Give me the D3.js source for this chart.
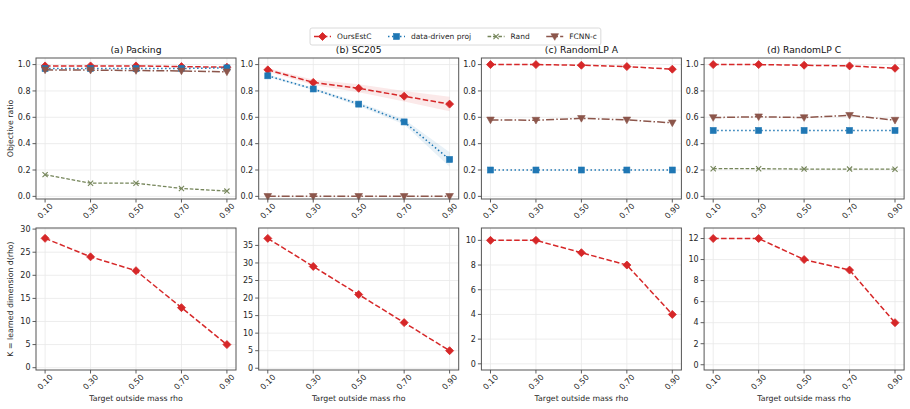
<!DOCTYPE html>
<html>
<head>
<meta charset="utf-8">
<script src="https://cdn.jsdelivr.net/npm/d3@7"></script>
<style>
  body { margin: 0; background: #fff; }
  svg { font-family: "DejaVu Sans", sans-serif; }
</style>
</head>
<body>
<div id="chart"></div>
<script>
// x categories
const rhoValues = [0.1, 0.3, 0.5, 0.7, 0.9];
const rhoLabels = ["0.10", "0.30", "0.50", "0.70", "0.90"];
const panelTitles = ["(a) Packing", "(b) SC205", "(c) RandomLP A", "(d) RandomLP C"];
const methodNames = ["OursEstC", "data-driven proj", "Rand", "FCNN-c"];

// objective ratio, one array per method and panel (null = not shown)
const packingOurs = [0.99, 0.99, 0.99, 0.985, 0.98];
const packingProj = [0.97, 0.97, 0.97, 0.97, 0.975];
const packingRand = [0.165, 0.10, 0.10, 0.06, 0.04];
const packingFcnn = [0.96, 0.958, 0.955, 0.952, 0.945];

const sc205Ours = [0.96, 0.865, 0.82, 0.76, 0.70];
const sc205Proj = [0.915, 0.815, 0.70, 0.565, 0.28];
const sc205Rand = [null, null, null, null, null];
const sc205Fcnn = [0, 0, 0, 0, 0];
const sc205OursSpread = [0.015, 0.02, 0.03, 0.04, 0.055];
const sc205ProjSpread = [0.01, 0.01, 0.015, 0.02, 0.055];

const lpAOurs = [1.0, 1.0, 0.995, 0.985, 0.965];
const lpAProj = [0.2, 0.2, 0.2, 0.2, 0.2];
const lpARand = [null, null, null, null, null];
const lpAFcnn = [0.58, 0.578, 0.592, 0.58, 0.558];

const lpCOurs = [1.0, 1.0, 0.995, 0.99, 0.972];
const lpCProj = [0.5, 0.5, 0.5, 0.5, 0.5];
const lpCRand = [0.21, 0.21, 0.207, 0.207, 0.206];
const lpCFcnn = [0.598, 0.604, 0.598, 0.615, 0.578];

// learned dimension K
const packingK = [28, 24, 21, 13, 5];
const sc205K = [37, 29, 21, 13, 5];
const lpAK = [10, 10, 9, 8, 4];
const lpCK = [12, 12, 10, 9, 4];

const topSeries = [
  [packingOurs, packingProj, packingRand, packingFcnn],
  [sc205Ours, sc205Proj, sc205Rand, sc205Fcnn],
  [lpAOurs, lpAProj, lpARand, lpAFcnn],
  [lpCOurs, lpCProj, lpCRand, lpCFcnn]
];
const bands = [null, [sc205OursSpread, sc205ProjSpread], null, null];
const kSeries = [packingK, sc205K, lpAK, lpCK];
const kTickStep = [5, 5, 2, 2];

const styles = [
  {color: "#d62728", dash: "5.5,2.4", marker: "diamond", width: 1.5},
  {color: "#1f77b4", dash: "1.5,2.5", marker: "square", width: 1.5},
  {color: "#75855a", dash: "3.6,1.8", marker: "x", width: 1.3},
  {color: "#8c564b", dash: "8,2.2,1.5,2.2", marker: "tridown", width: 1.5}
];

const W = 910, H = 409;
const svg = d3.select("#chart").append("svg").attr("width", W).attr("height", H);

const panelLeft = 36, panelStep = 222.7, panelW = 200;
const topRow = {y0: 58, y1: 199};
const botRow = {y0: 228, y1: 370};
const textColor = "#262626";

function drawMarker(g, type, x, y, color) {
  if (type === "diamond") {
    const r = 4;
    g.append("path").attr("d", `M${x},${y - r}L${x + r},${y}L${x},${y + r}L${x - r},${y}Z`)
      .attr("fill", color).attr("stroke", color).attr("stroke-width", 0.8);
  } else if (type === "square") {
    const r = 3;
    g.append("rect").attr("x", x - r).attr("y", y - r).attr("width", 2 * r).attr("height", 2 * r)
      .attr("fill", color).attr("stroke", color).attr("stroke-width", 0.6);
  } else if (type === "x") {
    const r = 2.6;
    g.append("path").attr("d", `M${x - r},${y - r}L${x + r},${y + r}M${x - r},${y + r}L${x + r},${y - r}`)
      .attr("stroke", color).attr("stroke-width", 1.1).attr("fill", "none");
  } else if (type === "tridown") {
    const r = 3.8;
    g.append("path").attr("d", `M${x - r},${y - r * 0.75}L${x + r},${y - r * 0.75}L${x},${y + r}Z`)
      .attr("fill", color).attr("stroke", color).attr("stroke-width", 0.6);
  }
}

function drawAxes(g, x, y, h, yTicks, yFmt) {
  // grid
  g.selectAll(".gx").data(rhoValues).join("line")
    .attr("x1", d => x(d)).attr("x2", d => x(d)).attr("y1", 0).attr("y2", h)
    .attr("stroke", "#e8e8e8").attr("stroke-width", 0.8);
  g.selectAll(".gy").data(yTicks).join("line")
    .attr("x1", 0).attr("x2", panelW).attr("y1", d => y(d)).attr("y2", d => y(d))
    .attr("stroke", "#e8e8e8").attr("stroke-width", 0.8);

  // y ticks
  yTicks.forEach(t => {
    g.append("line").attr("x1", -3.5).attr("x2", 0).attr("y1", y(t)).attr("y2", y(t))
      .attr("stroke", "#333").attr("stroke-width", 0.8);
    g.append("text").attr("x", -5.5).attr("y", y(t)).attr("dy", "0.35em")
      .attr("text-anchor", "end").attr("font-size", 8).attr("fill", textColor).text(yFmt(t));
  });
  // x ticks, rotated
  rhoValues.forEach((v, i) => {
    g.append("line").attr("x1", x(v)).attr("x2", x(v)).attr("y1", h).attr("y2", h + 3.5)
      .attr("stroke", "#333").attr("stroke-width", 0.8);
    g.append("text")
      .attr("transform", `translate(${x(v)},${h + 12}) rotate(-45)`)
      .attr("text-anchor", "middle").attr("dy", "0.35em")
      .attr("font-size", 8).attr("fill", textColor).text(rhoLabels[i]);
  });
}

function drawFrame(g, h) {
  g.append("rect").attr("x", 0).attr("y", 0).attr("width", panelW).attr("height", h)
    .attr("fill", "none").attr("stroke", "#555").attr("stroke-width", 1);
}

function drawLine(g, x, y, vals, st) {
  const pts = vals.map((v, i) => ({x: rhoValues[i], v: v})).filter(p => p.v !== null);
  if (!pts.length) return;
  const line = d3.line().x(p => x(p.x)).y(p => y(p.v));
  g.append("path").attr("d", line(pts)).attr("fill", "none")
    .attr("stroke", st.color).attr("stroke-width", st.width).attr("stroke-dasharray", st.dash);
  pts.forEach(p => drawMarker(g, st.marker, x(p.x), y(p.v), st.color));
}

for (let p = 0; p < 4; p++) {
  const left = panelLeft + p * panelStep;
  const x = d3.scaleLinear().domain([0.06, 0.94]).range([0, panelW]);

  // top row: objective ratio
  const hT = topRow.y1 - topRow.y0;
  const yT = d3.scaleLinear().domain([-0.02, 1.05]).range([hT, 0]);
  const gT = svg.append("g").attr("transform", `translate(${left},${topRow.y0})`);
  drawAxes(gT, x, yT, hT, [0, 0.2, 0.4, 0.6, 0.8, 1.0], d3.format(".1f"));

  if (bands[p]) {
    bands[p].forEach((spread, m) => {
      const vals = topSeries[p][m];
      const area = d3.area().x((d, i) => x(rhoValues[i]))
        .y0((d, i) => yT(d - spread[i])).y1((d, i) => yT(d + spread[i]));
      gT.append("path").attr("d", area(vals)).attr("fill", styles[m].color).attr("fill-opacity", 0.1);
    });
  }
  topSeries[p].forEach((vals, m) => drawLine(gT, x, yT, vals, styles[m]));
  drawFrame(gT, hT);

  gT.append("text").attr("x", panelW / 2).attr("y", -5).attr("text-anchor", "middle")
    .attr("font-size", 9.2).attr("fill", "#111").text(panelTitles[p]);

  // bottom row: learned dimension
  const hB = botRow.y1 - botRow.y0;
  const kMax = d3.max(kSeries[p]);
  const yB = d3.scaleLinear().domain([-0.5, Math.max(kMax + 1, kMax * 1.08)]).range([hB, 0]);
  const gB = svg.append("g").attr("transform", `translate(${left},${botRow.y0})`);
  drawAxes(gB, x, yB, hB, d3.range(0, yB.domain()[1], kTickStep[p]), d3.format("d"));
  drawLine(gB, x, yB, kSeries[p], styles[0]);
  drawFrame(gB, hB);

  gB.append("text").attr("x", panelW / 2).attr("y", hB + 31).attr("text-anchor", "middle")
    .attr("font-size", 7.8).attr("fill", textColor).text("Target outside mass rho");
}

// y axis labels
svg.append("text").attr("transform", `translate(13,${(topRow.y0 + topRow.y1) / 2}) rotate(-90)`)
  .attr("text-anchor", "middle").attr("font-size", 7.8).attr("fill", textColor).text("Objective ratio");
svg.append("text").attr("transform", `translate(13,${(botRow.y0 + botRow.y1) / 2}) rotate(-90)`)
  .attr("text-anchor", "middle").attr("font-size", 7.8).attr("fill", textColor).text("K = learned dimension d(rho)");

// legend
const leg = svg.append("g");
const legBox = leg.append("rect").attr("y", 28).attr("height", 17).attr("rx", 2)
  .attr("fill", "#fff").attr("fill-opacity", 0.85).attr("stroke", "#d0d0d0").attr("stroke-width", 0.8);
let lx = 314;
const ly = 36.5;
const colGap = 16.5;
methodNames.forEach((name, m) => {
  const st = styles[m];
  leg.append("line").attr("x1", lx).attr("x2", lx + 17).attr("y1", ly).attr("y2", ly)
    .attr("stroke", st.color).attr("stroke-width", st.width).attr("stroke-dasharray", st.dash);
  drawMarker(leg, st.marker, lx + 8.5, ly, st.color);
  const t = leg.append("text").attr("x", lx + 23).attr("y", ly).attr("dy", "0.35em")
    .attr("font-size", 7.5).attr("fill", textColor).text(name);
  lx += 23 + t.node().getComputedTextLength() + colGap;
});
legBox.attr("x", 310).attr("width", lx - colGap + 4 - 310);
</script>
</body>
</html>
